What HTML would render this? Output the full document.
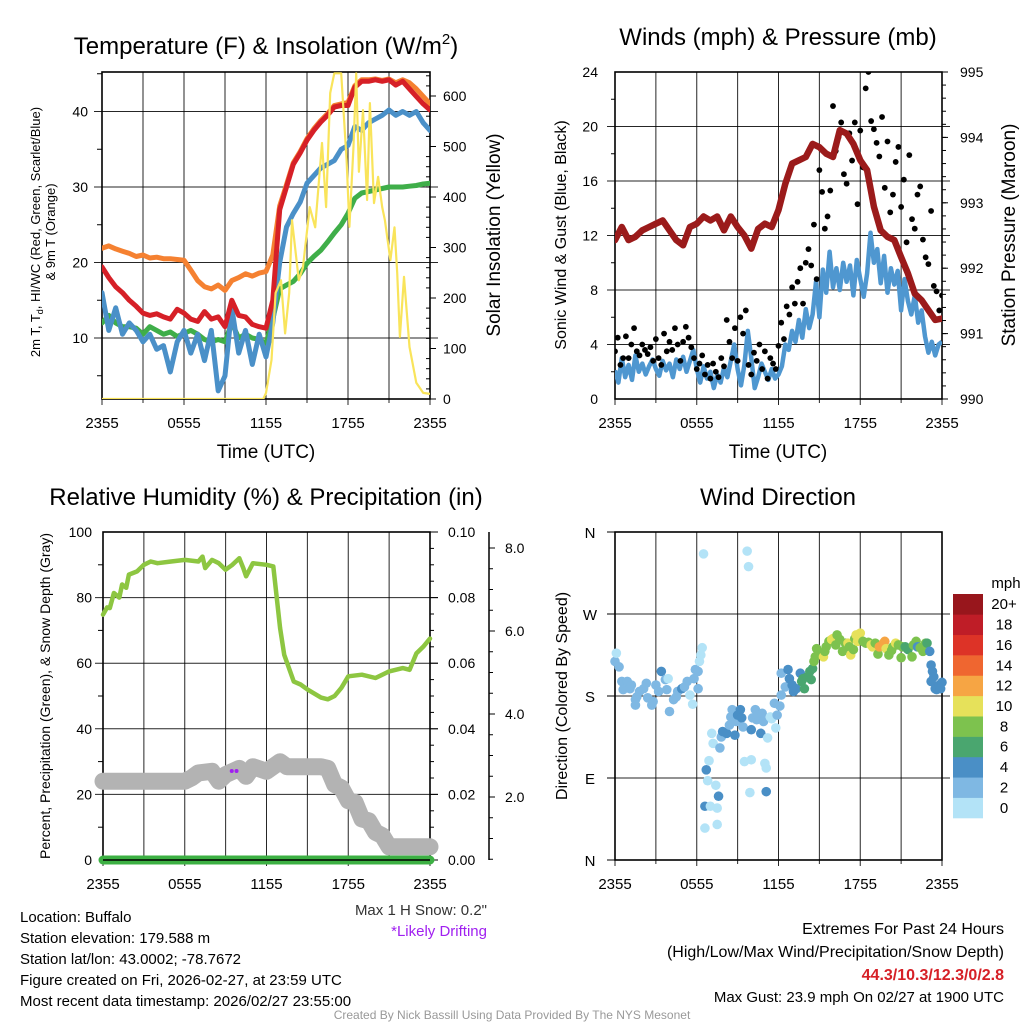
<!DOCTYPE html>
<html><head><meta charset="utf-8"><style>
html,body{margin:0;padding:0;background:#fff;}
svg{display:block;font-family:"Liberation Sans",sans-serif;}
</style></head><body>
<svg id="s" width="1024" height="1024" viewBox="0 0 1024 1024" xmlns="http://www.w3.org/2000/svg">
<defs>
<clipPath id="c1"><rect x="102" y="72" width="328" height="327"/></clipPath>
<clipPath id="c2"><rect x="615" y="72" width="327" height="327"/></clipPath>
</defs>
<g id="root"></g>
</svg>
<script>
// ---------- DATA ----------
const tempRed=[19.4,18,16.8,16,15,14.2,13.3,13,13.2,12.8,12.5,13.8,13.3,12.5,12.2,13.5,12.5,12.8,11.5,15,13,12.8,11.8,11.5,11.3,15,27,30,33,34.5,36.2,37.5,38.6,39.5,40.6,40.8,40.8,43.2,44,44,44.2,44,44.2,43.5,44,43,42,41,40.2];
const temp9m=[21.9,22.2,21.8,21.5,21.2,20.8,21,20.6,20.7,20.5,20.5,20.4,20.3,19,17.6,16.8,16.5,17,16.3,17.6,18,18.5,18.2,18.6,18.8,21,27.5,30.3,33.2,34.7,36.4,37.7,38.8,39.7,40.8,41,41.2,43.4,44.2,44.2,44.3,44.1,44.3,43.8,44.2,43.8,43,42,41];
const tempHI=[16,11,14,10.5,12,11,9.5,10.5,8.5,9,5.5,9.5,11,8,10.5,7,11,3,5,14,8,11,6.5,10.5,7.5,12,20,24.7,26.5,28,30.5,31.5,32.5,33,33.5,35,35.5,38,37.5,38.5,39,39.5,40.2,39.5,40,39.5,40,38.5,37.5];
const tempDew=[12,13,12,11.5,11.5,11.3,10.5,11.5,11,10.5,10.8,10.2,10.6,11,10.5,9.8,9.5,9.8,9.5,12,10,10.5,10,9.8,9.3,12.5,16.5,17,17.5,18.5,19.9,20.8,21.6,22.7,23.9,25,26.5,28.5,29.2,29.4,29.6,29.8,30,30,30,30.1,30.2,30.4,30.5];
const solT=[0,11.8,12.0,12.4,12.7,13.1,13.4,13.7,13.9,14.4,14.7,15.2,15.6,16.1,16.4,16.7,17.0,17.5,17.9,18.1,18.4,18.6,18.8,19.1,19.4,19.6,19.9,20.2,20.5,20.7,21.1,21.4,21.6,21.8,22.1,22.5,23.0,23.5,24];
const solV=[0,0,12,77,210,235,130,210,354,235,260,380,340,507,380,606,645,645,473,341,500,645,450,572,394,586,388,440,380,354,275,340,250,123,242,103,32,12,10];
const xTicks=["2355","0555","1155","1755","2355"];
const p1Left=[10,20,30,40];
const p1Right=[0,100,200,300,400,500,600];
const pressure=[992.43,992.63,992.43,992.48,992.58,992.63,992.68,992.73,992.58,992.43,992.35,992.63,992.68,992.79,992.73,992.79,992.58,992.79,992.63,992.5,992.3,992.6,992.68,992.63,992.89,993.29,993.6,993.65,993.7,993.9,993.85,993.75,993.7,994.11,994.06,993.9,993.65,993.5,992.94,992.58,992.48,992.43,992.17,991.92,991.61,991.51,991.36,991.21,991.23];
const windSonic=[2.1,1.2,3.0,1.6,2.5,1.4,3.2,2.0,2.6,1.8,2.4,2.9,2.2,1.7,2.8,2.1,2.6,1.6,2.9,2.2,3.1,2.0,2.8,3.6,2.2,
1.2,2.4,1.5,2.0,0.8,1.8,1.2,2.3,1.6,2.8,4.0,2.2,1.0,2.5,5.0,3.0,0.8,1.6,2.6,2.0,1.4,2.2,1.5,1.8,
2.4,4.0,3.6,5.0,4.2,5.8,4.5,6.6,5.2,6.2,8.6,6.0,9.5,7.8,10.8,8.2,9.6,8.0,10.0,8.6,9.8,7.6,10.2,8.8,
7.5,9.2,12.2,10.0,11.0,8.5,10.5,7.8,9.6,8.4,9.4,6.5,8.8,7.2,6.2,7.6,5.6,6.5,4.6,3.4,4.2,3.2,4.0,4.2];
const windGust=[3.5,4.5,2.5,3,4.6,3,4,5.2,3.5,3.2,4,3.6,
3.3,3.8,2.8,4.4,3,2.5,4.8,3.5,4.2,
3.6,5.2,4,2.8,4.2,5.3,4.5,3.8,3,2.2,
2.6,3.2,1.8,2.5,1.5,2.6,2,1.6,3,2.4,
5.8,4.2,3,5.2,2.8,6,4.8,6.5,2.5,1.8,
3.4,2.8,4,2.2,3.5,1.5,3,2.6,2.2,3.9,
5.6,4.4,6.8,6.2,8.2,7,8.6,9.6,7,10,
11,9.8,12.8,8.8,16.8,15.2,12.5,13.4,15.3,21.5,
18.2,19.2,20.3,16.5,15.8,19.5,17.5,20.3,14.3,19.7,
17,22.8,24,20.4,19.8,18.8,17.8,20.7,15.5,18.9,
13.7,15,17.4,18.5,14.1,16.1,11.5,17.9,13.2,12.5,
15,15.6,11.7,10.4,9.9,13.8,8.3,7.9,6.5,7.6];
const p2Left=[0,4,8,12,16,20,24];
const p2Right=[990,991,992,993,994,995];
const humT=[0,0.3,0.5,0.8,1.2,1.4,1.7,1.9,2.5,3,3.5,4,5,6,7,7.3,7.5,8,8.5,9,9.5,10,10.3,10.5,11,12,12.5,13,13.3,14,14.5,15,16,16.5,17,17.5,18,19,20,21,22,22.5,23,23.5,24];
const humV=[74.8,77,76.8,81.4,80,84,83,87,88,90,91,90.5,91,91.5,91,92.5,89,91.5,90.5,88.5,90,92,89,86.5,90.5,90,89.5,70.7,62.6,54.4,53.5,52,49.5,49,50,52.5,56,56.5,55.5,57.5,58.5,58,63,65,67.5];
const snowT=[0,6,6.5,7,8,8.5,9,10,10.5,11,12,13,13.5,16,16.5,17,17.5,18,18.5,19,19.5,20,20.5,21,24];
const snowIn=[2.38,2.38,2.46,2.58,2.62,2.38,2.54,2.69,2.50,2.73,2.62,2.85,2.73,2.73,2.69,2.3,2.22,1.91,1.87,1.47,1.43,1.15,1.07,0.80,0.80];
const precipT=[0,24];
const precipV=[0,0];
const p3Left=[0,20,40,60,80,100];
const p3Right=["0.00","0.02","0.04","0.06","0.08","0.10"];
const p3Snow=["2.0","4.0","6.0","8.0"];
const wT=[0.0,0.1,0.3,0.5,0.6,0.9,1.1,1.2,1.5,1.6,1.5,1.8,2.1,2.3,2.4,2.7,2.8,3.0,3.2,3.4,3.7,3.9,3.8,4.0,4.3,4.5,4.6,4.9,5.1,5.3,5.5,5.7,5.8,5.9,6.1,6.1,6.2,6.3,6.4,6.5,
6.7,6.8,6.9,6.6,7.0,6.6,7.1,7.2,7.4,7.5,7.6,7.5,7.7,7.8,7.9,8.2,8.4,8.5,8.6,8.8,8.9,9.0,9.2,9.3,9.4,9.5,9.7,9.8,10.0,9.9,10.0,10.1,10.3,10.4,10.5,10.7,10.8,10.9,11.0,11.1,11.1,11.2,11.4,11.5,11.7,11.8,11.9,12.1,12.2,
12.2,12.5,12.7,12.8,13.0,13.1,13.3,13.6,13.7,13.8,13.9,14.1,14.3,14.4,14.5,14.6,14.7,14.8,15.0,15.2,15.3,15.4,15.5,15.7,15.9,16.0,16.2,16.3,16.5,16.7,16.9,17.1,17.2,17.3,17.5,17.6,17.7,17.8,18.0,18.2,18.4,18.6,18.8,18.9,19.1,19.3,19.4,19.7,19.8,19.9,20.1,20.3,20.4,20.6,20.8,21.0,21.1,21.3,21.5,21.8,21.9,22.1,22.2,22.4,22.6,22.8,22.9,23.1,23.2,23.3,23.4,23.2,23.5,23.6,23.8,24.0,23.9];
const wD=[218,227,212,196,187,196,188,192,176,179,170,185,188,194,178,170,174,192,185,207,198,199,187,163,176,179,185,188,190,196,181,171,199,209,207,188,218,225,233,336,
99,87,109,59,59,35,139,128,82,57,70,39,123,135,141,139,148,157,165,137,152,159,165,156,146,108,339,322,110,74,143,156,165,154,159,139,161,152,106,101,75,134,157,155,172,145,159,169,181,
205,190,209,199,192,185,188,205,196,199,188,201,207,198,210,218,223,232,227,225,223,229,234,240,242,243,236,247,242,229,238,238,234,225,231,243,247,240,249,240,238,239,236,234,238,226,234,238,240,232,225,230,234,238,236,222,234,234,231,223,236,240,234,233,229,238,238,229,214,207,201,196,188,187,192,195,188];
const wS=[3,1,3,3,3,3,3,3,3,3,3,3,3,3,3,3,3,3,3,5,3,1,3,3,3,3,3,5,3,3,1,1,3,3,3,3,1,1,1,1,
5,1,1,5,1,1,1,1,1,1,5,1,3,3,5,5,3,3,3,5,3,5,5,5,3,1,1,1,1,1,5,3,3,3,3,5,3,3,1,1,5,1,1,1,3,1,3,3,3,
3,3,5,5,5,5,5,5,7,7,7,7,7,7,7,9,9,9,9,9,11,9,9,9,11,11,9,9,9,9,9,11,9,11,9,9,11,11,11,9,9,9,11,11,9,9,13,13,13,11,9,9,9,11,9,9,9,7,7,9,9,9,5,9,9,9,7,5,5,5,5,5,5,5,5,5,5,5,5,5];
const cbColors=["#b3e3f7","#7fb8e3","#4a8fc6","#4aa66f","#7dc24e","#e6e15a","#f6a544","#ef6630","#dd3327","#bf1d27","#98161c"];
const cbLabels=["0","2","4","6","8","10","12","14","16","18","20+"];
const dirLabels=["N","E","S","W","N"];

// ---------- HELPERS ----------
const NS="http://www.w3.org/2000/svg";
const root=document.getElementById('root');
function mk(tag,attrs,parent){const e=document.createElementNS(NS,tag);for(const k in attrs)e.setAttribute(k,attrs[k]);(parent||root).appendChild(e);return e;}
function txt(x,y,s,size,anchor,parent,extra){const e=mk('text',Object.assign({x:x,y:y,'font-size':size,'text-anchor':anchor||'middle',fill:'#000'},extra||{}),parent);e.textContent=s;return e;}
function path(pts){return pts.map((p,i)=>(i?'L':'M')+p[0].toFixed(1)+' '+p[1].toFixed(1)).join(' ');}
function grp(name){const g=mk('g',{});return g;}

const P1={x0:102,x1:430,y0:72,y1:399};
const P2={x0:615,x1:942,y0:72,y1:399};
const P3={x0:103,x1:430,y0:532,y1:860};
const P4={x0:615,x1:942,y0:532,y1:860};
const xOf=(P,t)=>P.x0+t/24*(P.x1-P.x0);
const y1L=v=>413.5-v*7.55;
const y1R=w=>399-w*0.505;
const y2L=v=>399-v*13.625;
const y2R=p=>399-(p-990)*65.4;
const y3L=v=>860-v*3.28;
const y3Snow=i=>880-i*41.5;
const y3Pr=i=>860-i*3280;
const y4=d=>860-d*328/360;

function frame(P,name,hLines){
  const g=grp(name);
  for(let i=0;i<=8;i++){const x=xOf(P,i*3);mk('line',{x1:x,x2:x,y1:P.y0,y2:P.y1+(i%2==0?6:4),stroke:'#000','stroke-width':1,'stroke-opacity':0.85},g);}
  hLines.forEach(y=>mk('line',{x1:P.x0-8,x2:P.x1+8,y1:y,y2:y,stroke:'#000','stroke-width':1,'stroke-opacity':0.85},g));
  mk('rect',{x:P.x0,y:P.y0,width:P.x1-P.x0,height:P.y1-P.y0,fill:'none',stroke:'#000','stroke-width':1.6},g);
  const lg=grp(name+'-x-tick-labels');
  xTicks.forEach((s,i)=>txt(xOf(P,i*6),P.y1+29,s,15,'middle',lg));
  return g;
}

// ---------- PANEL 1 ----------
txt(266,54,'',24).innerHTML='Temperature (F) &amp; Insolation (W/m<tspan font-size="15" dy="-10">2</tspan><tspan dy="10">)</tspan>';

frame(P1,'temperature-panel',p1Left.map(y1L));
{const g=grp('temperature-left-ticks');p1Left.forEach(v=>txt(88,y1L(v)+5,String(v),14,'end',g));
 [5,15,25,35,45].forEach(v=>mk('line',{x1:P1.x0-5,x2:P1.x0,y1:y1L(v),y2:y1L(v),stroke:'#000'},g));
 const r=grp('insolation-right-ticks');p1Right.forEach(v=>{txt(443,y1R(v)+5,String(v),14,'start',r);mk('line',{x1:P1.x1,x2:P1.x1+6,y1:y1R(v),y2:y1R(v),stroke:'#000'},r);});
 for(let w=20;w<650;w+=20){if(w%100)mk('line',{x1:P1.x1-4,x2:P1.x1,y1:y1R(w),y2:y1R(w),stroke:'#000'},r);}}
{const g=mk('g',{'clip-path':'url(#c1)'});
 const series=[[temp9m,'#f58131','series-9m-temp'],[tempDew,'#3fae49','series-dewpoint'],[tempHI,'#4a90c8','series-hi-wc'],[tempRed,'#d62027','series-2m-temp']];
 series.forEach(s=>{const e=mk('path',{d:path(s[0].map((v,i)=>[xOf(P1,i*0.5),y1L(v)])),fill:'none',stroke:s[1],'stroke-width':5,'stroke-linejoin':'round','stroke-linecap':'round'},g);});
 const sol=mk('path',{d:path(solT.map((t,i)=>[xOf(P1,t),y1R(solV[i])])),fill:'none',stroke:'#f9e45b','stroke-width':2.2,'stroke-linejoin':'round'},g);
 }
txt(266,458,'Time (UTC)',19);
{const t=mk('text',{transform:'translate(40,232) rotate(-90)','font-size':13,'text-anchor':'middle'});t.innerHTML='2m T, T<tspan font-size="9" dy="3">d</tspan><tspan dy="-3">, HI/WC (Red, Green, Scarlet/Blue)</tspan>';
 const t2=mk('text',{transform:'translate(55,232) rotate(-90)','font-size':13,'text-anchor':'middle'});t2.textContent='& 9m T (Orange)';
 const t3=mk('text',{transform:'translate(500,235) rotate(-90)','font-size':19,'text-anchor':'middle'});t3.textContent='Solar Insolation (Yellow)';}

// ---------- PANEL 2 ----------
txt(778,45,'Winds (mph) & Pressure (mb)',24);
frame(P2,'winds-panel',p2Left.slice(1,6).map(y2L));
{const g=grp('winds-left-ticks');p2Left.forEach(v=>txt(598,y2L(v)+5,String(v),14,'end',g));
 const r=grp('pressure-right-ticks');p2Right.forEach(v=>{txt(960,y2R(v)+5,String(v),14,'start',r);mk('line',{x1:P2.x1,x2:P2.x1+6,y1:y2R(v),y2:y2R(v),stroke:'#000'},r);});
 for(let p=990.2;p<995;p+=0.2){mk('line',{x1:P2.x1,x2:P2.x1+4,y1:y2R(p),y2:y2R(p),stroke:'#000'},r);}
 for(let v=2;v<24;v+=4)mk('line',{x1:P2.x0-4,x2:P2.x0,y1:y2L(v),y2:y2L(v),stroke:'#000'},g);}
{const g=mk('g',{'clip-path':'url(#c2)'});
 const b=mk('path',{d:path(windSonic.map((v,i)=>[xOf(P2,i*0.25),y2L(v)])),fill:'none',stroke:'#4f97d0','stroke-width':4.5,'stroke-linejoin':'round'},g);
 
 const gg=mk('g',{},g);
 windGust.forEach((v,i)=>{const c=mk('circle',{cx:xOf(P2,i*24/(windGust.length-1)),cy:y2L(v),r:2.9,fill:'#000'},gg);});
 const m=mk('path',{d:path(pressure.map((p,i)=>[xOf(P2,i*0.5),y2R(p)])),fill:'none',stroke:'#9b1b1b','stroke-width':6.5,'stroke-linejoin':'round','stroke-linecap':'round'},g);
 }
txt(778,458,'Time (UTC)',19);
{const t=mk('text',{transform:'translate(566,235) rotate(-90)','font-size':16,'text-anchor':'middle'});t.textContent='Sonic Wind & Gust (Blue, Black)';
 const t2=mk('text',{transform:'translate(1015,235) rotate(-90)','font-size':19,'text-anchor':'middle'});t2.textContent='Station Pressure (Maroon)';}

// ---------- PANEL 3 ----------
txt(266,505,'Relative Humidity (%) & Precipitation (in)',24);
frame(P3,'humidity-panel',p3Left.slice(1,5).map(y3L));
{const g=grp('humidity-left-ticks');p3Left.forEach(v=>txt(92,y3L(v)+5,String(v),14,'end',g));
 for(let v=10;v<100;v+=20)mk('line',{x1:P3.x0-5,x2:P3.x0,y1:y3L(v),y2:y3L(v),stroke:'#000'},g);
 const r=grp('precip-right-ticks');p3Right.forEach((s,i)=>{txt(448,y3L(i*20)+5,s,14,'start',r);mk('line',{x1:P3.x1,x2:P3.x1+8,y1:y3L(i*20),y2:y3L(i*20),stroke:'#000'},r);});
 for(let v=5;v<100;v+=5){if(v%20)mk('line',{x1:P3.x1,x2:P3.x1+4,y1:y3L(v),y2:y3L(v),stroke:'#000'},r);}
 const s=grp('snow-depth-axis');mk('line',{x1:489,x2:489,y1:532,y2:860,stroke:'#000','stroke-width':1.5},s);
 p3Snow.forEach(l=>{const v=parseFloat(l);txt(505,y3Snow(v)+5,l,14,'start',s);mk('line',{x1:489,x2:495,y1:y3Snow(v),y2:y3Snow(v),stroke:'#000'},s);});
 for(let v=0.5;v<8.3;v+=0.5){if(v%2)mk('line',{x1:489,x2:493,y1:y3Snow(v),y2:y3Snow(v),stroke:'#000'},s);}}
{const g=grp('humidity-series');
 const sn=mk('path',{d:path(snowT.map((t,i)=>[xOf(P3,t),y3Snow(snowIn[i])])),fill:'none',stroke:'#b3b3b3','stroke-width':17,'stroke-linejoin':'round','stroke-linecap':'round'},g);
 
 const h=mk('path',{d:path(humT.map((t,i)=>[xOf(P3,t),y3L(humV[i])])),fill:'none',stroke:'#8dc641','stroke-width':4.5,'stroke-linejoin':'round','stroke-linecap':'round'},g);
 
 const pr=mk('path',{d:path(precipT.map((t,i)=>[xOf(P3,t),y3Pr(precipV[i])])),fill:'none',stroke:'#3cb043','stroke-width':9,'stroke-linecap':'round'},g);
 
 mk('line',{x1:P3.x0,x2:P3.x1,y1:860,y2:860,stroke:'#000','stroke-width':1.5},g);
 [9.45,9.8].forEach(t=>{const c=mk('circle',{cx:xOf(P3,t),cy:771,r:2,fill:'#a020f0'},g);});}
{const t=mk('text',{transform:'translate(50,696) rotate(-90)','font-size':14,'text-anchor':'middle'});t.textContent='Percent, Precipitation (Green), & Snow Depth (Gray)';}

// ---------- PANEL 4 ----------
txt(778,505,'Wind Direction',24);
frame(P4,'wind-direction-panel',[1,2,3].map(i=>y4(i*90)));
{const g=grp('direction-ticks');dirLabels.forEach((s,i)=>{txt(590,y4(i*90)+6,s,15,'middle',g);mk('line',{x1:P4.x0-8,x2:P4.x0,y1:y4(i*90),y2:y4(i*90),stroke:'#000'},g);});}
{const g=grp('series-wind-direction');
 wT.forEach((t,i)=>{const idx=Math.min(10,Math.floor(wS[i]/2));const c=mk('circle',{cx:xOf(P4,t),cy:y4(wD[i]),r:4.8,fill:cbColors[idx]},g);});}
{const t=mk('text',{transform:'translate(567,696) rotate(-90)','font-size':16,'text-anchor':'middle'});t.textContent='Direction (Colored By Speed)';}
{const g=grp('speed-colorbar');const h=224/11;
 cbColors.forEach((c,i)=>{const r=mk('rect',{x:953,y:818-(i+1)*h,width:30,height:h+0.3,fill:c},g);
  txt(1004,818-(i+0.5)*h+5,cbLabels[i],15,'middle',g);});
 txt(1006,588,'mph',15,'middle',g);}

// ---------- FOOTER TEXT ----------
{const g=grp('station-info');
 ['Location: Buffalo','Station elevation: 179.588 m','Station lat/lon: 43.0002; -78.7672','Figure created on Fri, 2026-02-27, at 23:59 UTC','Most recent data timestamp: 2026/02/27 23:55:00'].forEach((s,i)=>txt(20,922+i*21,s,15,'start',g));
 txt(487,915,'Max 1 H Snow: 0.2"',15,'end',g,{fill:'#333'});
 txt(487,936,'*Likely Drifting',15,'end',g,{fill:'#a020f0'});
 txt(1004,934,'Extremes For Past 24 Hours',16,'end',g);
 txt(1004,957,'(High/Low/Max Wind/Precipitation/Snow Depth)',16,'end',g);
 txt(1004,980,'44.3/10.3/12.3/0/2.8',16,'end',g,{fill:'#d62027','font-weight':'bold'});
 txt(1004,1002,'Max Gust: 23.9 mph On 02/27 at 1900 UTC',15,'end',g);
 txt(512,1019,'Created By Nick Bassill Using Data Provided By The NYS Mesonet',12,'middle',g,{fill:'#999'});}
</script>
</body></html>
